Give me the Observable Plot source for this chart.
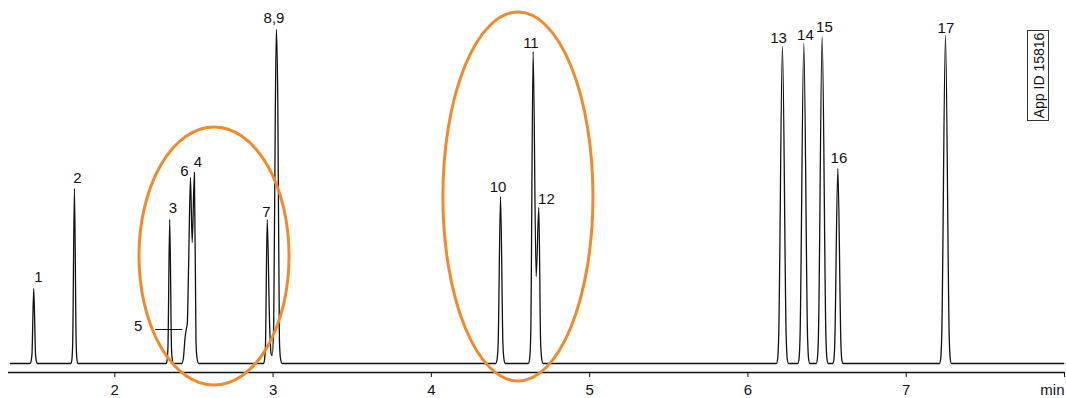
<!DOCTYPE html>
<html><head><meta charset="utf-8">
<script src="https://cdn.jsdelivr.net/npm/d3@7"></script>
<script src="https://cdn.jsdelivr.net/npm/@observablehq/plot@0.6"></script>
<style>
html,body{margin:0;padding:0;background:#fff;}
#chart svg{display:block;background:linear-gradient(to bottom,#ffffff 0%,#ffffff 40%,#efeff6 100%);}
</style></head><body><div id="chart"></div>
<script>
// Chromatogram trace: [time (min), signal (arbitrary units)]
const trace = [
  [1.341,0],
  [1.466,0],[1.472,3],[1.477,10],[1.488,75],[1.499,10],[1.504,3],[1.510,0],
  [1.723,0],[1.729,4],[1.734,20],[1.745,175],[1.756,20],[1.761,4],[1.767,0],
  [2.325,0],[2.331,4],[2.336,17],[2.347,144],[2.358,17],[2.363,4],[2.369,0],
  [2.424,0],[2.434,6],[2.443,24],[2.450,33],[2.458,40],[2.466,95],[2.478,186],[2.489,121],[2.503,191],[2.513,22],[2.520,5],[2.530,0],
  [2.940,0],[2.946,4],[2.952,18],[2.963,144],[2.978,40],[2.987,10],[2.994,8],[3.004,40],[3.014,250],[3.021,334],[3.030,260],[3.040,24],[3.047,5],[3.057,0],
  [4.407,0],[4.415,4],[4.422,20],[4.437,167],[4.452,20],[4.459,4],[4.467,0],
  [4.613,0],[4.621,5],[4.628,30],[4.643,312],[4.662,87],[4.679,156],[4.690,22],[4.697,5],[4.706,0],
  [6.180,0],[6.188,5],[6.194,25],[6.218,317],[6.242,25],[6.248,5],[6.256,0],
  [6.315,0],[6.323,5],[6.329,25],[6.353,320],[6.377,25],[6.383,5],[6.391,0],
  [6.431,0],[6.439,5],[6.445,25],[6.469,327],[6.493,25],[6.499,5],[6.507,0],
  [6.536,0],[6.543,4],[6.548,17],[6.568,195],[6.588,17],[6.593,4],[6.600,0],
  [7.210,0],[7.218,5],[7.224,25],[7.248,328],[7.272,25],[7.278,5],[7.286,0],
  [7.996,0]
];

// Peak labels and their positions
const peakLabels  = ["1","2","3","5","6","4","7","8,9","10","11","12","13","14","15","16","17"];
const labelTime   = [1.518,1.764,2.368,2.147,2.440,2.526,2.958,3.006,4.421,4.629,4.727,6.193,6.363,6.483,6.575,7.251];
const labelSignal = [86,185,155,37,192.5,201.5,151,345.5,176.5,320,164.5,325,328,336,205,335];

// Leader line from label "5" to its shoulder peak
const leader5 = [[2.258,34],[2.423,34]];

// Axis
const xTicks = [2,3,4,5,6,7,8];
const xTickLabels = [2,3,4,5,6,7];
const axisUnit = "min";
const axisUnitAt = 8;

// Highlight ellipses: centre time, centre signal, half-width (min), half-height (signal)
const ellipseCx = [2.630, 4.550];
const ellipseCy = [107, 166.5];
const ellipseRx = [0.474, 0.474];
const ellipseRy = [129, 184.5];

const appId = "App ID 15816";

const labels = peakLabels.map((t,i)=>({text:t, x:labelTime[i], y:labelSignal[i]}));

const FONT = "'Liberation Sans', Arial, Helvetica, sans-serif";

const plot = Plot.plot({
  width: 1066, height: 398,
  marginLeft: 8, marginRight: 2, marginTop: 28, marginBottom: 26,
  x: {domain: [1.3285, 8], axis: null},
  y: {domain: [-9, 335], axis: null},
  style: {fontFamily: FONT, background: "transparent", color: "#111"},
  marks: [
    Plot.ruleY([-9], {stroke: "#111", strokeWidth: 1.3}),
    Plot.axisX(xTicks, {anchor: "bottom", tickSize: 5, label: null, stroke: "#111",
      tickFormat: () => ""}),
    Plot.text(xTickLabels, {x: d => d, text: d => String(d), frameAnchor: "bottom",
      lineAnchor: "middle", dy: 18, fontSize: 15, fill: "#111"}),
    Plot.text([axisUnitAt], {x: d => d, text: () => axisUnit, frameAnchor: "bottom", textAnchor: "end",
      lineAnchor: "middle", dy: 18, fontSize: 15, fill: "#111"}),
    Plot.line(trace, {x: d => d[0], y: d => d[1], stroke: "#111", strokeWidth: 1.3, curve: "monotone-x"}),
    Plot.line(leader5, {x: d => d[0], y: d => d[1], stroke: "#111", strokeWidth: 1}),
    Plot.text(labels, {x: "x", y: "y", text: "text", fontSize: 15, fill: "#111",
      textAnchor: "middle", lineAnchor: "middle"})
  ]
});

document.getElementById("chart").appendChild(plot);

const sx = plot.scale("x"), sy = plot.scale("y");
const svg = d3.select(plot);
ellipseCx.forEach((cx, i) => {
  const px = sx.apply(cx), py = sy.apply(ellipseCy[i]);
  const rx = sx.apply(cx + ellipseRx[i]) - px;
  const ry = sy.apply(ellipseCy[i] - ellipseRy[i]) - py;
  svg.append("ellipse").attr("cx", px).attr("cy", py).attr("rx", rx).attr("ry", ry)
    .attr("fill", "none").attr("stroke", "#f28a2c").attr("stroke-width", 3);
});

// App ID box at top right
const g = svg.append("g");
g.append("rect").attr("x", 1027.5).attr("y", 30.5).attr("width", 21).attr("height", 90)
  .attr("fill", "#fff").attr("stroke", "#333").attr("stroke-width", 1);
g.append("text").attr("transform", "translate(1038.5,75.5) rotate(-90)")
  .attr("text-anchor", "middle").attr("dominant-baseline", "central")
  .attr("font-family", FONT).attr("font-size", 14).attr("fill", "#111").text(appId);
</script></body></html>
